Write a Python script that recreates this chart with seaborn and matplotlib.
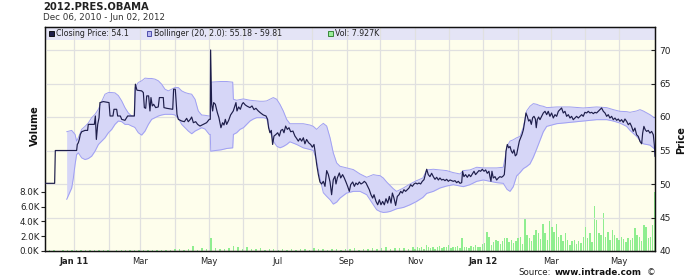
import numpy as np
import pandas as pd
import matplotlib
matplotlib.use("Agg")
import matplotlib.pyplot as plt
import matplotlib.dates as mdates
from matplotlib.patches import Rectangle
import seaborn as sns

# ---------------- data ----------------
start_date = "2010-12-06"
end_date = "2012-06-02"

title_text = "2012.PRES.OBAMA"
subtitle_text = "Dec 06, 2010 - Jun 02, 2012"

# closing price, days since start_date
price_day = [0, 8.6, 9.2, 28.2, 28.8, 29.7, 30.6, 31.5, 32.7, 35.7, 38.0, 38.6, 44.0, 44.9, 45.8, 47.0,
             48.2, 49.0, 52.0, 57.1, 58.0, 60.6, 61.5, 63.9, 64.8, 67.2, 68.4, 71.3, 73.7, 79.7, 80.6,
             82.0, 86.2, 87.7, 88.6, 89.8, 90.7, 92.4, 93.6, 94.5, 95.7, 96.9, 98.7, 101.0, 102.0, 105.5,
             106.1, 108.5, 113.9, 114.7, 116.2, 117.7, 118.9, 121.9, 124.3, 126.3, 127.8, 129.6, 130.8,
             132.3, 134.4, 136.1,
             138.2, 141.2, 144.1, 146.5, 147.4, 147.7, 148.6, 149.5, 150.4, 151.9, 153.7, 155.1, 156.9,
             158.4, 159.6, 160.8, 162.0, 163.8, 165.5, 167.9, 169.4, 170.3, 171.2, 172.7, 174.2, 175.7,
             176.8, 178.6, 180.4, 182.8, 184.6, 186.4, 188.1, 190.2, 192.3, 194.7, 197.1, 198.5, 199.4,
             200.6, 201.8, 203.0, 204.2, 206.0, 207.5, 209.0, 210.4, 211.9, 213.1, 214.6, 216.1, 217.6,
             219.1, 221.1, 222.9, 224.4, 225.9, 227.4, 228.9, 230.4, 231.8, 233.3, 235.1, 236.9, 238.4,
             239.9,
             240.8, 242.3, 243.8, 245.2, 246.7, 248.2, 249.7, 251.2, 252.7, 254.2, 255.6, 257.1, 258.6,
             259.5, 260.7, 262.5, 263.7, 265.4, 266.9, 268.4, 269.9, 271.4, 272.6, 274.4, 275.9, 277.3,
             278.8, 280.3, 281.8, 283.3, 284.8, 286.3, 287.7, 289.2, 290.7, 292.2, 293.4, 295.2, 296.7,
             298.2, 299.6, 301.1, 302.6, 304.1, 305.6, 307.1, 308.6, 309.8, 311.2, 312.7, 314.2, 315.7,
             317.2, 318.7, 320.1, 321.6, 323.1, 324.6, 326.1, 327.6, 329.1, 330.6, 332.0, 333.5, 335.0,
             336.5, 338.0,
             340.4, 341.8, 343.3, 344.8, 346.3, 347.8, 349.3, 350.8, 352.2, 353.7, 355.2, 356.7, 358.2,
             359.7, 361.2, 362.6, 364.1, 365.6, 367.1, 368.6, 370.1, 371.6, 372.4, 373.6, 375.1, 376.6,
             378.1, 379.6, 381.1, 382.6, 384.0, 385.5, 387.0, 388.5, 390.0, 391.5, 393.0, 394.4, 395.9,
             396.8, 397.7, 398.6, 399.8, 401.3, 402.8, 404.3, 405.7, 407.2, 408.7, 409.6, 410.5, 411.1,
             412.3, 413.5, 414.7, 415.9, 417.0, 418.2, 419.4, 420.6, 421.8, 423.0, 424.2, 425.4, 426.6,
             428.1, 428.9, 430.1, 431.3, 432.5, 433.7, 434.9, 436.1, 437.3, 438.1, 439.0, 440.2,
             441.4, 442.9, 444.4, 445.9, 447.4, 448.8, 450.3, 451.8, 453.3, 454.8, 456.3, 457.8, 459.2,
             460.7, 462.2, 463.7, 465.2, 466.7, 468.2, 469.6, 471.1, 472.6, 474.1, 475.6, 477.1, 478.6,
             480.0, 481.5, 483.0, 484.5, 486.0, 487.5, 489.0, 490.4, 491.9, 493.4, 494.9, 496.4, 497.9,
             499.4, 500.9, 502.3, 503.8, 505.3, 506.8, 508.3, 509.8, 511.3, 512.7, 514.2, 515.7, 517.2,
             518.7, 520.2, 521.7, 523.1, 524.6, 526.1, 527.6, 529.1, 530.6, 532.1, 533.0, 534.1, 535.3,
             536.5, 538.0, 539.5, 541.0, 542.5, 543.4, 544.0]
price_close = [50.1, 50.1, 55.0, 55.0, 55.9, 56.15, 56.65, 57.4, 57.8, 58.0, 58.0, 58.9, 58.9, 60.15, 56.65, 58.9,
               59.9, 62.15, 62.3, 62.15, 60.15, 60.15, 61.15, 61.15, 60.15, 60.15, 59.65, 59.5, 60.15, 60.15, 64.9,
               64.0, 63.9, 63.65, 61.4, 61.3, 63.15, 63.15, 60.9, 62.9, 61.65, 61.9, 61.4, 61.5, 62.9, 62.9,
               61.4, 61.3, 61.15, 64.15, 64.15, 60.4, 59.65, 59.4, 59.3, 59.8, 59.3, 59.65, 60.0,
               59.15, 59.3, 58.9,
               58.65, 58.9, 59.15, 59.65, 59.65, 70.0, 61.9, 60.9, 62.15, 61.9, 60.65, 59.9, 58.4,
               59.15, 58.8, 59.65, 58.9, 59.5, 60.3, 60.9, 61.65, 62.15, 60.9, 61.5, 61.15, 61.9,
               62.15, 61.8, 61.6, 61.4, 61.65, 61.1, 61.3, 60.9, 60.6, 60.3, 60.15, 59.65, 58.4,
               57.65, 58.0, 55.9, 57.15, 57.4, 57.65, 57.15, 58.0, 58.15, 57.65, 58.65, 58.15, 58.4,
               57.8, 57.9, 57.15, 56.8, 56.4, 56.8, 56.4, 56.9, 56.0, 56.65, 56.15, 55.9, 55.5,
               55.9,
               54.9, 52.9, 51.4, 50.3, 50.0, 50.4, 49.65, 52.0, 51.4, 50.3, 48.4, 50.65, 51.15,
               50.0, 50.9, 51.65, 50.9, 51.4, 50.9, 50.3, 49.65, 48.9, 49.9, 50.3, 49.65, 50.15,
               49.9, 50.3, 50.0, 50.15, 50.4, 50.15, 49.65, 49.15, 48.4, 47.9, 48.4, 47.4, 46.9,
               47.65, 46.9, 47.4, 46.9, 47.8, 47.15, 48.15, 47.15, 48.65, 47.9, 46.8, 48.15, 48.4,
               48.9, 48.65, 49.15, 48.9, 49.15, 49.4, 49.9, 49.65, 50.0, 50.15, 50.0, 50.15, 50.0,
               50.4, 50.65,
               52.2, 51.4, 51.1, 51.6, 51.1, 50.7, 51.0, 50.6, 50.9, 50.6, 50.7, 50.5, 50.7,
               50.4, 50.6, 50.5, 50.4, 50.5, 50.2, 50.4, 50.1, 50.2, 51.9, 51.1, 51.4, 51.0,
               51.4, 51.1, 51.5, 51.9, 51.4, 51.7, 52.0, 51.9, 52.2, 51.9, 52.1, 51.6, 51.9,
               51.1, 50.4, 51.9, 50.9, 51.1, 50.6, 50.9, 51.1, 51.0, 51.2, 51.4, 53.1, 54.9,
               55.9, 55.4, 55.6, 54.9, 54.6, 55.1, 54.2, 54.4, 55.4, 56.4, 56.9, 57.4, 58.1,
               59.6, 60.6, 60.1, 59.4, 59.6, 58.9, 59.9, 60.1, 59.7, 58.4, 59.6, 60.0,
               59.6, 60.1, 60.6, 60.85, 60.35, 60.85, 60.1, 60.6, 59.85, 60.35, 60.1, 60.85, 61.1,
               61.35, 60.6, 60.85, 60.1, 60.35, 59.85, 60.1, 59.6, 59.85, 60.1, 59.85, 60.1, 60.35,
               60.1, 60.7, 60.6, 60.85, 60.6, 60.7, 60.5, 60.7, 60.6, 60.85, 61.1, 61.35, 60.85,
               60.6, 60.1, 60.35, 59.85, 60.1, 59.6, 59.85, 59.5, 59.7, 59.35, 59.6, 59.2, 59.7,
               59.35, 58.85, 59.1, 58.6, 57.85, 58.35, 57.35, 57.1, 56.35, 56.0, 57.6, 58.6, 58.1,
               57.85, 58.0, 57.6, 57.85, 57.35, 55.85, 54.1]

# Bollinger (20, 2.0) band edges
band_day = [19.3, 23.8, 25.3, 26.8, 28.2, 29.7, 32.7, 35.7, 38.6, 41.6, 44.6, 47.6, 50.5, 53.5, 56.5,
            59.5, 62.4, 65.4, 68.4, 71.3, 74.3, 77.3, 79.5, 80.3, 83.2, 86.2, 89.2, 92.2, 95.1, 98.1,
            101.1, 104, 107, 110, 113, 115.9, 118.9, 121.9, 124.9, 127.8, 130.8, 133.8, 136.7, 139.7,
            142.7, 146.5, 147.4, 147.8, 152, 157, 162, 167.4, 168, 170.9, 173.9, 176.9, 179.8, 182.8,
            185.8, 188.7, 191.7, 194.7, 197.6, 200.6, 203.6, 206.6, 209.5, 212.5, 215.5, 218.4, 224.4,
            230.3, 236.3, 239.3, 242.3, 245.2, 248.2, 251.2, 254.2, 257.1, 260.1, 263.1, 269, 275,
            280.9, 286.9, 289.8, 292.8, 295.8, 298.7, 301.7, 304.7, 307.7, 310.6, 313.6, 319.6, 325.5,
            331.4, 337, 340.4, 346.3, 352.2, 358.2, 364.1, 370.1, 373, 379, 385, 390.9, 396.8, 402.8,
            408.7, 410.5, 412, 414.7, 417.6, 420.6, 423.6, 426.6, 429.5, 432.5, 435.5, 438.4, 441.4,
            444.4, 447.4, 456.3, 468.2, 480, 491.9, 500.9, 506.8, 512.7, 518.7, 521.7, 527.6, 530.6,
            533.5, 539.5, 544]
band_upper = [57.8, 58.0, 57.7, 57.4, 56.4, 56.9, 58.15, 58.6, 59.1, 59.9, 60.4, 61.15, 62.3, 63.4, 63.65,
              63.65, 63.6, 63.2, 62.4, 61.4, 60.6, 60.15, 60.15, 64.4, 65.15, 65.4, 65.8, 65.75, 65.75, 65.65,
              65.4, 64.9, 64.15, 63.9, 64.15, 64.4, 64.4, 63.9, 63.65, 63.5, 63.4, 62.65, 60.9, 60.3,
              60.25, 60.15, 60.15, 65.2, 65.25, 65.3, 65.3, 65.2, 62.65, 62.5, 62.6, 62.7, 62.6, 62.5,
              62.45, 62.4, 62.35, 62.35, 62.4, 62.65, 62.9, 62.65, 61.9, 60.9, 59.65, 59.0, 59.0,
              59.0, 58.8, 58.6, 58.15, 58.65, 59.05, 58.65, 56.9, 54.65, 53.15, 52.65, 52.4, 52.15,
              51.5, 51.0, 51.2, 51.4, 51.3, 51.25, 50.9, 50.3, 49.8, 49.3, 48.9, 49.4, 50.0,
              50.5, 50.9, 52.1, 52.2, 52.1, 52.0, 51.7, 51.5, 52.0, 52.1, 52.5, 52.4, 52.4, 52.4,
              52.5, 54.1, 55.6, 56.4, 56.6, 56.9, 57.1, 58.5, 60.9, 61.6, 62.0, 61.9, 61.7,
              61.6, 61.4, 61.5, 61.5, 61.35, 61.5, 61.4, 61.1, 60.85, 60.8, 60.7, 60.9, 61.1,
              60.9, 60.35, 59.81]
band_lower = [47.7, 49.4, 50.9, 52.9, 54.4, 54.65, 53.9, 53.65, 53.8, 54.15, 54.9, 55.9, 56.4, 56.9, 57.65,
              58.15, 58.9, 59.4, 59.3, 58.9, 58.9, 58.65, 58.5, 58.4, 57.65, 57.3, 57.9, 58.9, 59.65, 59.9,
              60.15, 60.3, 60.4, 60.4, 60.4, 60.3, 59.8, 58.9, 58.4, 57.9, 57.5, 57.9, 58.15, 58.4,
              58.2, 57.4, 57.4, 54.9, 55.0, 55.1, 55.3, 55.4, 57.4, 57.65, 58.15, 58.4, 58.9, 59.4,
              59.7, 59.9, 59.9, 59.9, 59.8, 57.9, 56.4, 55.65, 55.4, 55.6, 55.9, 56.3, 55.9,
              55.4, 55.15, 55.0, 53.5, 50.9, 48.7, 48.15, 47.65, 47.0, 47.3, 47.9, 48.65, 48.9,
              48.9, 48.4, 47.65, 46.9, 46.15, 45.9, 45.75, 45.8, 45.9, 46.1, 46.3, 46.5, 46.9,
              47.4, 48.0, 48.6, 48.9, 49.4, 49.7, 49.9, 49.7, 49.6, 49.9, 50.4, 50.6, 50.4, 50.2,
              50.1, 49.6, 49.2, 48.9, 49.6, 51.2, 51.7, 52.3, 52.6, 53.0, 54.0, 55.2, 56.5,
              57.8, 58.6, 59.0, 59.2, 59.4, 59.6, 59.6, 59.4, 59.1, 58.6, 58.0, 57.1, 56.5,
              56.0, 55.8, 55.18]

# volume in thousands: early period every 4 days from start, late period every 2 days from day 330
vol_early_step = 4
vol_early_k = [0.05, 0.08, 0.1, 0.06, 0.12, 0.1, 0.15, 0.12, 0.1, 0.08, 0.1, 0.12, 0.1, 0.08, 0.1, 0.06,
               0.08, 0.1, 0.12, 0.08, 0.15, 0.1, 0.12, 0.1, 0.08, 0.15, 0.12, 0.2, 0.15, 0.25, 0.22, 0.18,
               0.3, 0.67, 0.2, 0.36, 0.25, 1.8, 0.36, 0.3, 0.25, 0.35, 0.67, 0.58, 0.3, 0.5, 0.3, 0.25,
               0.35, 0.2, 0.3, 0.25, 0.2, 0.3, 0.15, 0.25, 0.2, 0.3, 0.25, 0.2, 0.35, 0.3, 0.25, 0.2,
               0.3, 0.25, 0.2, 0.3, 0.25, 0.35, 0.2, 0.3, 0.25, 0.4, 0.3, 0.35, 0.5, 0.3, 0.4, 0.35,
               0.45, 0.3, 0.5]
vol_late_start = 330
vol_late_step = 2
vol_late_k = [0.3, 0.5, 0.4, 0.6, 0.3, 0.8, 0.5, 0.4, 0.6, 0.3, 0.5, 0.7, 0.4, 0.6, 0.5, 0.8, 0.4, 0.6,
              0.5, 0.7, 0.4, 1.8, 0.5, 0.6, 0.4, 0.7, 0.5, 0.8, 0.6, 0.5, 0.9, 1.1, 2.6, 1.9, 0.8, 1.2,
              1.5, 1.3, 1.0, 1.4, 1.7, 1.7, 1.2, 1.5, 1.1, 1.3, 1.8, 1.9, 1.0, 4.3, 2.2, 1.7, 1.3, 2.2,
              2.8, 2.4, 1.6, 3.7, 2.4, 1.5, 4.0, 3.3, 2.6, 3.7, 1.9, 2.2, 1.3, 2.4, 1.5, 0.8, 1.3, 1.5,
              1.0, 1.3, 1.1, 1.9, 3.3, 1.7, 2.4, 1.2, 6.1, 4.2, 2.4, 2.2, 5.1, 1.9, 2.6, 1.5, 2.8, 2.2,
              1.7, 1.5, 1.9, 1.6, 1.2, 1.7, 1.5, 1.7, 3.1, 2.2, 1.9, 1.4, 3.5, 3.3, 1.7, 1.9, 3.5, 7.927]

vol_ticks = [0, 2000, 4000, 6000, 8000]
price_ticks = [40, 45, 50, 55, 60, 65, 70]
x_tick_dates = ["2011-01-01", "2011-03-01", "2011-05-01", "2011-07-01", "2011-09-01",
                "2011-11-01", "2012-01-01", "2012-03-01", "2012-05-01"]
x_tick_labels = ["Jan 11", "Mar", "May", "Jul", "Sep", "Nov", "Jan 12", "Mar", "May"]

legend_close = "Closing Price: 54.1"
legend_boll = "Bollinger (20, 2.0): 55.18 - 59.81"
legend_vol = "Vol: 7.927K"

# ---------------- styling ----------------
sns.set_style("white")
plt.rcParams['font.family'] = ['DejaVu Sans']

BG = '#fefeec'
LEG_BG = '#e4e4f6'
GRID = '#e0e0e0'
PRICE_C = '#1e1e4a'
BAND_FILL = '#d6d6f7'
BAND_EDGE = '#a0a0f2'
VOL_C = '#8fee8f'

base = mdates.date2num(pd.Timestamp(start_date))
x_end = mdates.date2num(pd.Timestamp(end_date))

fig = plt.figure(figsize=(7.0, 2.79), dpi=100)
fig.patch.set_facecolor('white')
W, H = 700.0, 279.0
L, R, T, B = 45.0, 655.0, 27.0, 251.0
ax = fig.add_axes([L / W, 1 - B / H, (R - L) / W, (B - T) / H])
ax.set_facecolor(BG)
ax.set_axisbelow(True)
ax_p = ax.twinx()
ax_p.set_axisbelow(True)

# legend band at top of plot
ax.add_patch(Rectangle((0, 1 - 13 / (B - T)), 1, 13 / (B - T), transform=ax.transAxes,
                       facecolor=LEG_BG, edgecolor='none', zorder=0.2))

# volume bars
early_days = np.arange(len(vol_early_k)) * vol_early_step
late_days = vol_late_start + np.arange(len(vol_late_k)) * vol_late_step
vol_x = base + np.concatenate([early_days, late_days])
vol_y = np.concatenate([vol_early_k, vol_late_k]) * 1000.0
ax.bar(vol_x, vol_y, width=1.3, color=VOL_C, linewidth=0, zorder=2)

# Bollinger band and price
n_b = min(len(band_day), len(band_upper), len(band_lower))
bx = base + np.asarray(band_day[:n_b], float)
bu = np.asarray(band_upper[:n_b], float)
bl = np.asarray(band_lower[:n_b], float)
ax_p.fill_between(bx, bl, bu, color=BAND_FILL, linewidth=0, zorder=2)
sns.lineplot(x=bx, y=bu, ax=ax_p, color=BAND_EDGE, lw=0.7, estimator=None, sort=False, zorder=3)
sns.lineplot(x=bx, y=bl, ax=ax_p, color=BAND_EDGE, lw=0.7, estimator=None, sort=False, zorder=3)

n_p = min(len(price_day), len(price_close))
pxv = base + np.asarray(price_day[:n_p], float)
pyv = np.asarray(price_close[:n_p], float)
sns.lineplot(x=pxv, y=pyv, ax=ax_p, color=PRICE_C, lw=0.85, estimator=None, sort=False, zorder=4)

# axes limits
ax.set_xlim(base, x_end)
ax.set_ylim(0, 8000 * (B - T) / 59.3)
ax_p.set_ylim(40, 40 + (B - T) / 6.7)

# grids
month_pos = mdates.date2num(pd.date_range("2011-01-01", "2012-05-01", freq="MS"))
tick_pos = mdates.date2num(pd.to_datetime(x_tick_dates))
ax.set_xticks(tick_pos)
ax.set_xticks(month_pos, minor=True)
ax.set_xticklabels(x_tick_labels)
ax.grid(which='both', axis='x', color=GRID, lw=0.9)
ax.grid(which='both', axis='y', visible=False)
ax.tick_params(axis='x', which='both', length=0, pad=4, labelsize=6, colors='#222222')
for lbl, txt in zip(ax.get_xticklabels(), x_tick_labels):
    if txt.startswith("Jan"):
        lbl.set_fontweight('bold')

ax.set_yticks(vol_ticks)
ax.set_yticklabels([f"{v / 1000:.1f}K" for v in vol_ticks])
ax.tick_params(axis='y', left=True, right=False, labelleft=True, labelright=False,
               direction='out', length=3, width=0.8, pad=1, labelsize=6.3, colors='#222222')

ax_p.set_yticks(price_ticks)
ax_p.set_yticklabels([str(v) for v in price_ticks])
ax_p.grid(axis='y', color=GRID, lw=0.9)
ax_p.tick_params(axis='y', right=True, left=False, labelright=True, labelleft=False,
                 direction='in', length=3, width=0.8, pad=3, labelsize=6.5, colors='#222222')
ax_p.set_xlabel("")
ax_p.set_ylabel("")
ax.set_xlabel("")
ax.set_ylabel("")

for a in (ax, ax_p):
    for s in a.spines.values():
        s.set_visible(True)
        s.set_color('#111111')
        s.set_linewidth(0.9)

# legend items inside top band
def axf(xp, yp):
    return (xp - L) / (R - L), (B - yp) / (B - T)

leg_items = [(49.3, legend_close, PRICE_C, '#000000'),
             (146.7, legend_boll, '#b8b8f0', '#3a3aa0'),
             (328.0, legend_vol, '#99ee99', '#227722')]
for xp, txt, fc, ec in leg_items:
    fx, fy = axf(xp, 35.5)
    ax_p.add_patch(Rectangle((fx, fy), 4.5 / (R - L), 4.5 / (B - T), transform=ax_p.transAxes,
                             facecolor=fc, edgecolor=ec, linewidth=0.6, clip_on=False, zorder=6))
    tx, ty = axf(xp + 7, 33.5)
    ax_p.text(tx, ty, txt, transform=ax_p.transAxes, fontsize=5.7, va='center', ha='left',
              color='#222222', zorder=6)

# titles and labels
fig.text(43 / W, 1 - 6.8 / H, title_text, fontsize=7.2, fontweight='bold', va='center', ha='left',
         color='#222222')
fig.text(43 / W, 1 - 17 / H, subtitle_text, fontsize=6.3, va='center', ha='left', color='#333333')
fig.text(35 / W, 1 - 126 / H, "Volume", fontsize=7, fontweight='bold', rotation=90,
         va='center', ha='center', color='#111111')
fig.text(681 / W, 1 - 140 / H, "Price", fontsize=7, fontweight='bold', rotation=90,
         va='center', ha='center', color='#111111')
fig.text(518 / W, 1 - 272.5 / H, "Source:", fontsize=6.2, va='center', ha='left', color='#222222')
fig.text(555 / W, 1 - 272.5 / H, "www.intrade.com", fontsize=6.3, fontweight='bold', va='center',
         ha='left', color='#111111')
fig.text(647 / W, 1 - 272.5 / H, "\u00a9", fontsize=6.3, va='center', ha='left', color='#222222')

fig.savefig("out.png", dpi=100, facecolor='white')
